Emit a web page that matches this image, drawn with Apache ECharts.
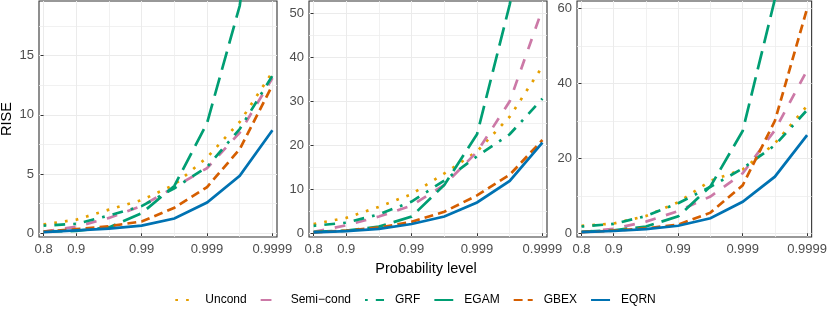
<!DOCTYPE html>
<html><head><meta charset="utf-8">
<script src="https://cdn.jsdelivr.net/npm/echarts@6/dist/echarts.min.js"></script>
<style>html,body{margin:0;padding:0;background:#fff}#c{width:830px;height:309px}</style>
</head><body><div id="c"></div>
<script>
// Probability levels (equally spaced positions on the x axis)
const levels = ['0.8','0.9','0.95','0.99','0.995','0.999','0.9995','0.9999'];
const labeledLevels = ['0.8','0.9','0.99','0.999','0.9999'];
const minorLevels = ['0.95','0.995','0.9995'];
const seriesNames = ['Uncond','Semi\u2212cond','GRF','EGAM','GBEX','EQRN'];

// Panel 1
const uncond1 = [0.75, 1.15, 2.0, 2.8, 4.1, 6.4, 9.4, 13.6];
const semi1   = [0.15, 0.55, 1.3, 2.3, 3.9, 5.5, 8.5, 13.1];
const grf1    = [0.65, 0.8, 1.5, 2.3, 3.8, 5.6, 8.8, 13.3];
const egam1   = [0.15, 0.2, 0.5, 1.7, 4.0, 9.3, 19.2, 40];
const gbex1   = [0.15, 0.35, 0.6, 1.0, 2.15, 3.9, 7.1, 12.5];
const eqrn1   = [0.1, 0.25, 0.4, 0.65, 1.25, 2.6, 4.85, 8.7];
const yTicks1 = [0, 5, 10, 15];
const yMinor1 = [2.5, 7.5, 12.5, 17.5];
const yLim1 = [-0.31, 19.6];

// Panel 2
const uncond2 = [2.1, 3.5, 6.0, 8.9, 13.6, 18.6, 26.5, 37.9];
const semi2   = [0.3, 1.8, 3.8, 6.3, 11.0, 18.5, 30.0, 51.0];
const grf2    = [1.7, 2.4, 4.3, 7.2, 12.0, 17.5, 22.5, 30.6];
const egam2   = [0.3, 0.6, 1.5, 3.8, 11.0, 22.5, 52, 90];
const gbex2   = [0.2, 0.6, 1.3, 2.6, 4.9, 8.6, 13.3, 21.2];
const eqrn2   = [0.2, 0.5, 1.0, 2.1, 3.8, 7.0, 11.9, 20.6];
const yTicks2 = [0, 10, 20, 30, 40, 50];
const yMinor2 = [5, 15, 25, 35, 45];
const yLim2 = [-0.85, 52.8];

// Panel 3
const uncond3 = [2.0, 2.6, 4.6, 8.3, 14.0, 17.0, 24.0, 34.0];
const semi3   = [0.3, 1.2, 3.1, 5.9, 9.8, 16.0, 27.5, 43.5];
const grf3    = [1.8, 2.5, 4.6, 8.0, 12.4, 17.3, 23.5, 32.9];
const egam3   = [0.4, 0.8, 1.8, 4.5, 12.5, 27.3, 62.5, 110];
const gbex3   = [0.3, 0.7, 1.3, 2.3, 5.5, 12.8, 30.0, 60.0];
const eqrn3   = [0.3, 0.6, 1.1, 2.0, 4.0, 8.4, 15.1, 26.2];
const yTicks3 = [0, 20, 40, 60];
const yMinor3 = [10, 30, 50];
const yLim3 = [-1.0, 62.0];

const panels = [
  {vals:[uncond1, semi1, grf1, egam1, gbex1, eqrn1], ticks:yTicks1, minor:yMinor1, lim:yLim1},
  {vals:[uncond2, semi2, grf2, egam2, gbex2, eqrn2], ticks:yTicks2, minor:yMinor2, lim:yLim2},
  {vals:[uncond3, semi3, grf3, egam3, gbex3, eqrn3], ticks:yTicks3, minor:yMinor3, lim:yLim3}
];

const gridBoxes = [
  {left:39, width:238},
  {left:309, width:238},
  {left:577, width:236}
];

const LW = 2.7;
const styles = [
  {color:'#E69F00', type:[LW*1, LW*3]},
  {color:'#CC79A7', type:[LW*4, LW*4]},
  {color:'#009E73', type:[LW*1, LW*3, LW*4, LW*3]},
  {color:'#009E73', type:[LW*7, LW*3]},
  {color:'#D55E00', type:[LW*3.3, LW*1.9]},
  {color:'#0072B2', type:'solid'}
];

const FONT = '"Liberation Sans", Arial, Helvetica, sans-serif';
const TICK_FS = 13;
const idx = a => a.map(l => levels.indexOf(l));

const grid = [], xAxis = [], yAxis = [], series = [];
panels.forEach((p, g) => {
  grid.push({left:gridBoxes[g].left, width:gridBoxes[g].width, top:1, height:236,
    show:true, borderColor:'#333333', borderWidth:1.1, backgroundColor:'#ffffff'});
  xAxis.push({type:'value', gridIndex:g, min:-0.14, max:7.14,
    axisLine:{show:false},
    axisTick:{show:true, length:3, lineStyle:{color:'#333333', width:1}, customValues:idx(labeledLevels)},
    axisLabel:{customValues:idx(labeledLevels), formatter:v => levels[Math.round(v)],
      color:'#4d4d4d', fontSize:TICK_FS, fontFamily:FONT, margin:6},
    splitLine:{show:true, lineStyle:{color:'#ebebeb', width:1}}
  });
  xAxis.push({type:'value', gridIndex:g, min:-0.14, max:7.14, position:'bottom',
    axisLine:{show:false}, axisLabel:{show:false},
    axisTick:{show:false, customValues:idx(minorLevels)},
    splitLine:{show:true, lineStyle:{color:'#ededed', width:0.8}}
  });
  yAxis.push({type:'value', gridIndex:g, min:p.lim[0], max:p.lim[1],
    axisLine:{show:false},
    axisTick:{show:true, length:3, lineStyle:{color:'#333333', width:1}, customValues:p.ticks},
    axisLabel:{customValues:p.ticks, color:'#4d4d4d', fontSize:TICK_FS, fontFamily:FONT, margin:5},
    splitLine:{show:true, lineStyle:{color:'#ebebeb', width:1}}
  });
  yAxis.push({type:'value', gridIndex:g, min:p.lim[0], max:p.lim[1], position:'left',
    axisLine:{show:false}, axisLabel:{show:false},
    axisTick:{show:false, customValues:p.minor},
    splitLine:{show:true, lineStyle:{color:'#ededed', width:0.8}}
  });
  p.vals.forEach((arr, s) => {
    series.push({
      type:'line', name:seriesNames[s], xAxisIndex:2*g, yAxisIndex:2*g,
      data:arr.map((v, i) => [i, v]), symbol:'none', clip:true, silent:true, animation:false,
      lineStyle:{color:styles[s].color, width:LW, type:styles[s].type, cap:'butt', join:'miter'},
      itemStyle:{color:styles[s].color}
    });
  });
});

const chart = echarts.init(document.getElementById('c'), null, {renderer:'canvas'});
chart.setOption({
  animation:false,
  backgroundColor:'#ffffff',
  grid, xAxis, yAxis, series,
  legend:{
    data:seriesNames, left:'center', top:289, itemWidth:19, itemHeight:10, itemGap:13,
    itemStyle:{opacity:0},
    textStyle:{color:'#000000', fontSize:12, fontFamily:FONT, padding:[0,0,0,6]},
    selectedMode:false
  },
  graphic:[
    {type:'text', x:426, y:261, style:{text:'Probability level', fontSize:14.5, fontFamily:FONT, fill:'#000000', textAlign:'center', textVerticalAlign:'top'}},
    {type:'text', x:-1, y:119, rotation:Math.PI/2, style:{text:'RISE', fontSize:14.5, fontFamily:FONT, fill:'#000000', textAlign:'center', textVerticalAlign:'top'}}
  ]
});
</script></body></html>
